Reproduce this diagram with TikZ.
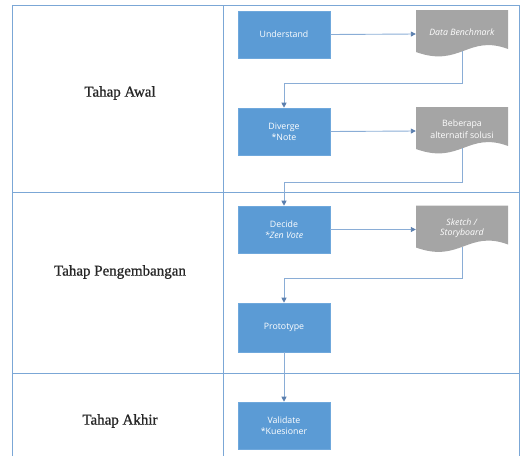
\documentclass[tikz,border=0pt]{standalone}
\usepackage{fontspec}
\setmainfont{Liberation Serif}
\newfontfamily\stagefont[FakeBold=0.9]{Liberation Serif}
\newfontfamily\boxfont{Open Sans}
\usetikzlibrary{arrows.meta}
\definecolor{boxblue}{HTML}{5B9BD5}
\definecolor{boxedge}{HTML}{6FA8DC}
\definecolor{docgray}{HTML}{A5A5A5}
\definecolor{gridblue}{HTML}{7BA7D6}
\definecolor{connblue}{HTML}{8AADD6}
\definecolor{tipblue}{HTML}{5B7FAE}
\tikzset{
  grid/.style={draw=gridblue, line width=0.9pt},
  stage/.style={font=\stagefont\fontsize{15}{17}\selectfont, text=black!85},
  procbox/.style={rectangle, fill=boxblue, draw=boxedge, line width=0.6pt,
    minimum width=92pt, minimum height=47pt, inner sep=1pt, align=center,
    text=white, font=\boxfont\fontsize{8.8}{11}\selectfont},
  docbox/.style={rectangle, minimum width=92pt, minimum height=48pt, inner sep=1pt,
    align=center, text=white, font=\boxfont\fontsize{8.8}{11}\selectfont,
    path picture={
      \fill[docgray] (path picture bounding box.north west)
        -- (path picture bounding box.north east)
        -- ([yshift=9pt]path picture bounding box.south east)
        .. controls ([xshift=-40pt,yshift=24pt]path picture bounding box.south east)
        and ([xshift=44pt,yshift=-10pt]path picture bounding box.south west)
        .. ([yshift=6pt]path picture bounding box.south west) -- cycle;
    }},
  conn/.style={draw=connblue, line width=0.9pt,
    -{Triangle[length=5pt,width=5pt,fill=tipblue,color=tipblue]}},
}
\begin{document}
\begin{tikzpicture}[x=1pt,y=-1pt]
\useasboundingbox (0,0) rectangle (524,456);
% table
\draw[grid] (12,456) -- (12,5) -- (519,5) -- (519,456);
\draw[grid] (223,5) -- (223,456);
\draw[grid] (12,192) -- (519,192);
\draw[grid] (12,373) -- (519,373);
% stage labels
\node[stage] (s1) at (120,93) {Tahap Awal};
\node[stage] (s2) at (120,272) {Tahap Pengembangan};
\node[stage] (s3) at (120,421) {Tahap Akhir};
% process boxes
\node[procbox] (u) at (284,34.5) {Understand};
\node[procbox] (v) at (284,131.5) {Diverge\\*Note};
\node[procbox] (c) at (284,229.5) {Decide\\\textit{*Zen Vote}};
\node[procbox, minimum height=49pt] (p) at (284,327.5) {Prototype};
\node[procbox] (w) at (284,425.5) {Validate\\*Kuesioner};
% documents
\node[docbox] (d1) at (462,34) {\raisebox{4pt}{\textit{Data Benchmark}}};
\node[docbox] (d2) at (462,131) {\raisebox{4pt}{\shortstack{Beberapa\\alternatif solusi}}};
\node[docbox] (d3) at (462,229.5) {\raisebox{4pt}{\shortstack{\textit{Sketch /}\\\textit{Storyboard}}}};
% connectors
\draw[conn] (u.east) -- (d1.west);
\draw[conn] (v.east) -- (d2.west);
\draw[conn] (c.east) -- (d3.west);
\coordinate (k1) at (462,83);
\coordinate (k2) at (462,182);
\coordinate (k3) at (462,278);
\draw[conn] ([yshift=7pt]d1.south) -- (k1) -| (v.north);
\draw[conn] ([yshift=7pt]d2.south) -- (k2) -| (c.north);
\draw[conn] ([yshift=7pt]d3.south) -- (k3) -| (p.north);
\draw[conn] (p.south) -- (w.north);
\end{tikzpicture}
\end{document}
